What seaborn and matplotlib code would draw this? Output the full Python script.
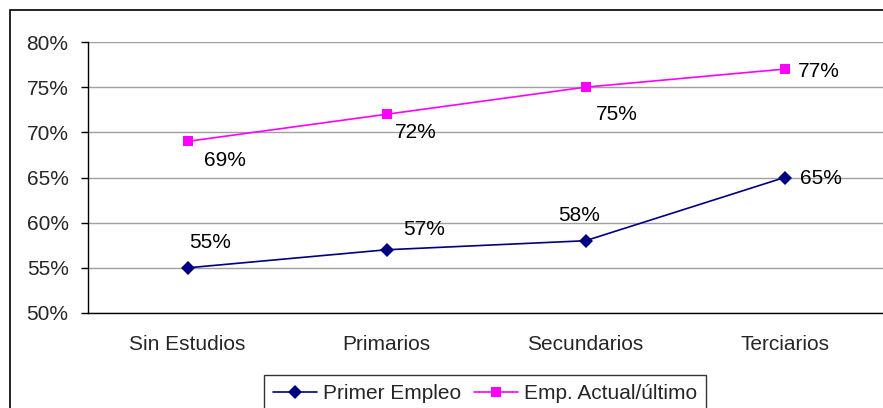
"""Primer empleo vs empleo actual por nivel de estudios."""

import matplotlib.pyplot as plt
from matplotlib.patches import Rectangle
from matplotlib.ticker import FixedLocator, PercentFormatter
import seaborn as sns
import pandas as pd

categorias = ['Sin Estudios', 'Primarios', 'Secundarios', 'Terciarios']
primer_empleo = [55, 57, 58, 65]
empleo_actual = [69, 72, 75, 77]
series_names = ['Primer Empleo', 'Emp. Actual/último']

# label offsets in pixels (dx, dy) per point
offs_primer = [(23, 25), (38, 20), (-6, 25), (36, -1)]
offs_actual = [(37, -19), (29, -18), (31, -27), (34, -2)]

sns.set_style('white')
plt.rcParams['font.family'] = ['Liberation Sans', 'DejaVu Sans']
FS = 15

fig = plt.figure(figsize=(8.83, 4.08), dpi=100)
ax = fig.add_axes([88 / 883, 1 - 313 / 408, (884 - 88) / 883, (313 - 42) / 408])

df = pd.DataFrame({
    'cat': categorias * 2,
    'val': primer_empleo + empleo_actual,
    'serie': [series_names[0]] * 4 + [series_names[1]] * 4,
})

sns.lineplot(data=df, x='cat', y='val', hue='serie', style='serie',
             palette=['#000080', '#FF00FF'], markers=['D', 's'], dashes=False,
             markersize=7, markeredgewidth=0, linewidth=1.2, ax=ax)

for vals, offs in [(primer_empleo, offs_primer), (empleo_actual, offs_actual)]:
    for i, (v, (dx, dy)) in enumerate(zip(vals, offs)):
        ax.annotate(f'{v}%', (i, v), xytext=(dx * 0.72, dy * 0.72), textcoords='offset points',
                    ha='center', va='center', fontsize=FS, color='black')

ax.set_xlim(-0.5, 3.5)
ax.set_ylim(50, 80)
ax.set_yticks(range(50, 81, 5))
ax.yaxis.set_major_formatter(PercentFormatter(decimals=0))
ax.grid(axis='y', color='#a0a0a0', linewidth=1)
ax.xaxis.set_minor_locator(FixedLocator([-0.5, 0.5, 1.5, 2.5, 3.5]))
ax.tick_params(axis='x', which='major', length=0, pad=16, labelsize=FS)
ax.tick_params(axis='x', which='minor', length=5, width=1, color='black', direction='out')
ax.tick_params(axis='y', length=5, width=1, color='black', direction='out',
               left=True, labelsize=FS, pad=9)
ax.set_xlabel('')
ax.set_ylabel('')
for s in ['top', 'right']:
    ax.spines[s].set_visible(False)
for s in ['left', 'bottom']:
    ax.spines[s].set_color('black')
    ax.spines[s].set_linewidth(1)

handles, labels = ax.get_legend_handles_labels()
ax.legend(handles, labels, loc='upper center', bbox_to_anchor=(485 / 883, 1 - 375 / 408),
          bbox_transform=fig.transFigure, ncol=2, frameon=True, fancybox=False,
          edgecolor='black', fontsize=FS, handlelength=2.1, handletextpad=0.3,
          columnspacing=0.6, borderpad=0.45, borderaxespad=0)

# outer chart border
fig.patches.append(Rectangle((10 / 883, -0.1), 1, 1 - 10 / 408 + 0.1,
                             transform=fig.transFigure, fill=False,
                             edgecolor='black', linewidth=1.2))

plt.savefig('out.png', dpi=100)
plt.close()
